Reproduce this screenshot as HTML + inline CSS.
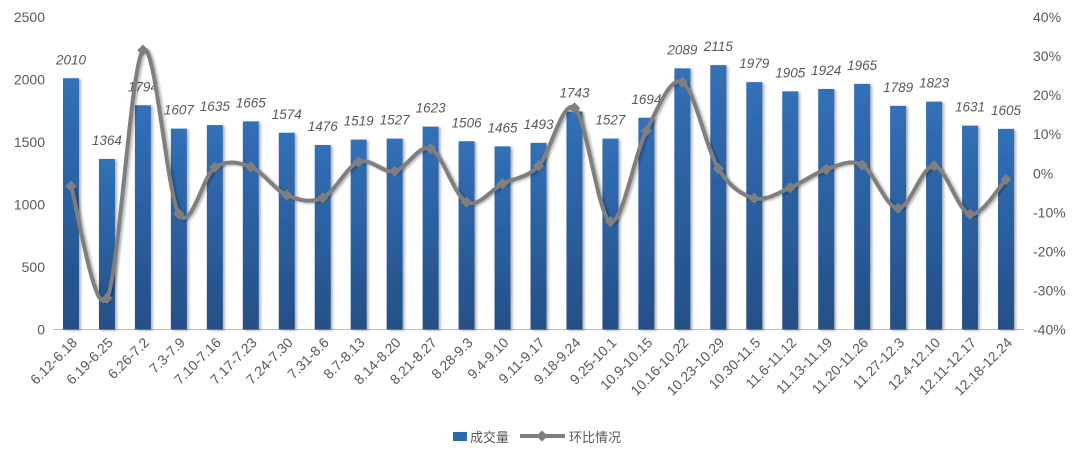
<!DOCTYPE html>
<html><head><meta charset="utf-8"><style>
body{margin:0;background:#fff;}
svg text{font-family:"Liberation Sans","Noto Sans CJK SC",sans-serif;fill:#595959;}
</style></head><body>
<svg id="c" width="1080" height="460" xmlns="http://www.w3.org/2000/svg">
<defs><linearGradient id="g" x1="0" y1="0" x2="0" y2="1"><stop offset="0" stop-color="#3170b8"/><stop offset="1" stop-color="#254f86"/></linearGradient>
<filter id="s" x="-20%" y="-5%" width="150%" height="110%"><feDropShadow dx="2" dy="1" stdDeviation="1.2" flood-color="#000" flood-opacity="0.3"/></filter></defs>
</svg>
<script>
const labels=["6.12-6.18","6.19-6.25","6.26-7.2","7.3-7.9","7.10-7.16","7.17-7.23","7.24-7.30","7.31-8.6","8.7-8.13","8.14-8.20","8.21-8.27","8.28-9.3","9.4-9.10","9.11-9.17","9.18-9.24","9.25-10.1","10.9-10.15","10.16-10.22","10.23-10.29","10.30-11.5","11.6-11.12","11.13-11.19","11.20-11.26","11.27-12.3","12.4-12.10","12.11-12.17","12.18-12.24"];
const vals=[2010,1364,1794,1607,1635,1665,1574,1476,1519,1527,1623,1506,1465,1493,1743,1527,1694,2089,2115,1979,1905,1924,1965,1789,1823,1631,1605];
const pct=[-3.3,-32,31.5,-10.4,1.5,1.6,-5.6,-6.3,2.9,0.5,6.3,-7.4,-2.7,1.9,16.7,-12.4,10.9,23.3,1.2,-6.4,-3.7,1,2.1,-9,1.9,-10.5,-1.6];
const N=labels.length,x0=53,x1=1024,cw=(x1-x0)/N,yb=329.5,yt=17;
const Y=v=>yb-v*(yb-yt)/2500, P=p=>yb-(p+40)*(yb-yt)/80;
let h='';
for(let i=0;i<=5;i++){let y=Y(i*500);h+=`<text x="45" y="${y+5}" font-size="14" text-anchor="end">${i*500}</text>`;}
for(let i=0;i<=8;i++){let p=-40+i*10,y=P(p);h+=`<text x="1033" y="${y+5}" font-size="14">${p}%</text>`;}
h+=`<line x1="${x0}" y1="${yb}" x2="${x1}" y2="${yb}" stroke="#bfbfbf" stroke-width="1"/>`;
const cx=i=>x0+cw*(i+0.5);
vals.forEach((v,i)=>{let x=cx(i),y=Y(v);
h+=`<rect x="${x-8}" y="${y}" width="16" height="${yb-y}" fill="url(#g)" filter="url(#s)"/>`;
h+=`<text x="${x}" y="${y-14}" font-size="13.5" font-style="italic" text-anchor="middle">${v}</text>`;
h+=`<text transform="translate(${x+7},${yb+14}) rotate(-45)" font-size="14" text-anchor="end">${labels[i]}</text>`;});
let pts=pct.map((p,i)=>[cx(i),P(p)]);
let d=`M${pts[0][0]},${pts[0][1]}`;
for(let i=0;i<pts.length-1;i++){let p0=pts[i-1]||pts[i],p1=pts[i],p2=pts[i+1],p3=pts[i+2]||p2,t=1/6;
d+=` C${p1[0]+(p2[0]-p0[0])*t},${p1[1]+(p2[1]-p0[1])*t} ${p2[0]-(p3[0]-p1[0])*t},${p2[1]-(p3[1]-p1[1])*t} ${p2[0]},${p2[1]}`;}
h+=`<path d="${d}" fill="none" stroke="#7f7f7f" stroke-width="4" filter="url(#s)"/>`;
pts.forEach(p=>{h+=`<rect x="${p[0]-4}" y="${p[1]-4}" width="8" height="8" fill="#7f7f7f" transform="rotate(45 ${p[0]} ${p[1]})"/>`;});
h+=`<rect x="453" y="432" width="14" height="9" fill="#2f69ad"/><text x="470" y="442" font-size="13">成交量</text>`;
h+=`<line x1="520" y1="436" x2="565" y2="436" stroke="#7f7f7f" stroke-width="4"/><rect x="538" y="432" width="8" height="8" fill="#7f7f7f" transform="rotate(45 542 436)"/><text x="569" y="442" font-size="13">环比情况</text>`;
document.getElementById('c').insertAdjacentHTML('beforeend',h);
</script>
</body></html>
